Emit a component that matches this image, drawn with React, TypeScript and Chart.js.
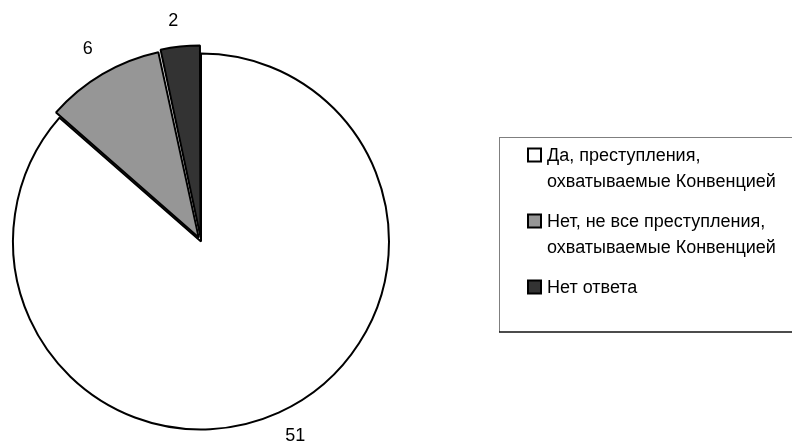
import React, { useEffect, useRef } from "react";
import { Chart, registerables } from "chart.js";

Chart.register(...registerables);

// Survey answers and counts
const categories: string[][] = [
  ["Да, преступления,", "охватываемые Конвенцией"],
  ["Нет, не все преступления,", "охватываемые Конвенцией"],
  ["Нет ответа"],
];
const counts: number[] = [51, 6, 2];
const sliceColors: string[] = ["#ffffff", "#969696", "#333333"];
const sliceOffsets: number[] = [0, 18, 18];

const FONT = '18px "Liberation Sans", Arial, sans-serif';

// Value labels placed just outside each slice, anchored by the corner facing the pie
const valueLabels = {
  id: "valueLabels",
  afterDatasetsDraw(chart: any) {
    const ctx = chart.ctx as CanvasRenderingContext2D;
    const meta = chart.getDatasetMeta(0);
    ctx.save();
    ctx.font = FONT;
    ctx.fillStyle = "#000";
    meta.data.forEach((arc: any, i: number) => {
      const p = arc.getProps(["x", "y", "startAngle", "endAngle", "outerRadius"], true);
      const mid = (p.startAngle + p.endAngle) / 2;
      const shift = (arc.options.offset || 0) / 2;
      const d = p.outerRadius + shift + 16;
      const ax = p.x + Math.cos(mid) * d;
      const ay = p.y + Math.sin(mid) * d;
      ctx.textAlign = Math.cos(mid) >= 0 ? "left" : "right";
      ctx.textBaseline = Math.sin(mid) >= 0 ? "top" : "bottom";
      ctx.fillText(String(counts[i]), ax, ay);
    });
    ctx.restore();
  },
};

// Boxed legend on the right
const boxLegend = {
  id: "boxLegend",
  afterDraw(chart: any) {
    const ctx = chart.ctx as CanvasRenderingContext2D;
    const left = 499;
    const top = 137;
    const bottom = 332;
    const right = 792;
    ctx.save();
    ctx.lineWidth = 1;
    ctx.strokeStyle = "#7f7f7f";
    ctx.beginPath();
    ctx.moveTo(left + 0.5, top);
    ctx.lineTo(left + 0.5, bottom);
    ctx.moveTo(left, top + 0.5);
    ctx.lineTo(right, top + 0.5);
    ctx.stroke();
    ctx.strokeStyle = "#111";
    ctx.lineWidth = 1.5;
    ctx.beginPath();
    ctx.moveTo(left, bottom);
    ctx.lineTo(right, bottom);
    ctx.stroke();

    ctx.font = FONT;
    ctx.textAlign = "left";
    ctx.textBaseline = "middle";
    const lineH = 26;
    const gap = 40;
    let y = 155;
    categories.forEach((lines, i) => {
      // marker
      ctx.fillStyle = sliceColors[i];
      ctx.fillRect(528, y - 6.5, 13, 13);
      ctx.strokeStyle = "#000";
      ctx.lineWidth = 2;
      ctx.strokeRect(528, y - 6.5, 13, 13);
      ctx.fillStyle = "#000";
      lines.forEach((t, j) => {
        ctx.fillText(t, 547, y + 1 + j * lineH);
      });
      y += (lines.length - 1) * lineH + gap;
    });
    ctx.restore();
  },
};

export default function App() {
  const ref = useRef<HTMLCanvasElement | null>(null);

  useEffect(() => {
    if (!ref.current) return;
    const chart = new Chart(ref.current, {
      type: "pie",
      data: {
        labels: categories,
        datasets: [
          {
            data: counts,
            backgroundColor: sliceColors,
            borderColor: "#000",
            borderWidth: 2,
            offset: sliceOffsets,
          },
        ],
      },
      options: {
        responsive: false,
        animation: false,
        radius: 188,
        layout: { padding: { left: 0, right: 390, top: 40, bottom: 0 } },
        plugins: {
          legend: { display: false },
          tooltip: { enabled: false },
        },
      } as any,
      plugins: [valueLabels, boxLegend],
    });
    return () => chart.destroy();
  }, []);

  return (
    <div style={{ position: "absolute", left: 0, top: 0, width: 792, height: 443, background: "#fff" }}>
      <canvas ref={ref} width={792} height={443} />
    </div>
  );
}
